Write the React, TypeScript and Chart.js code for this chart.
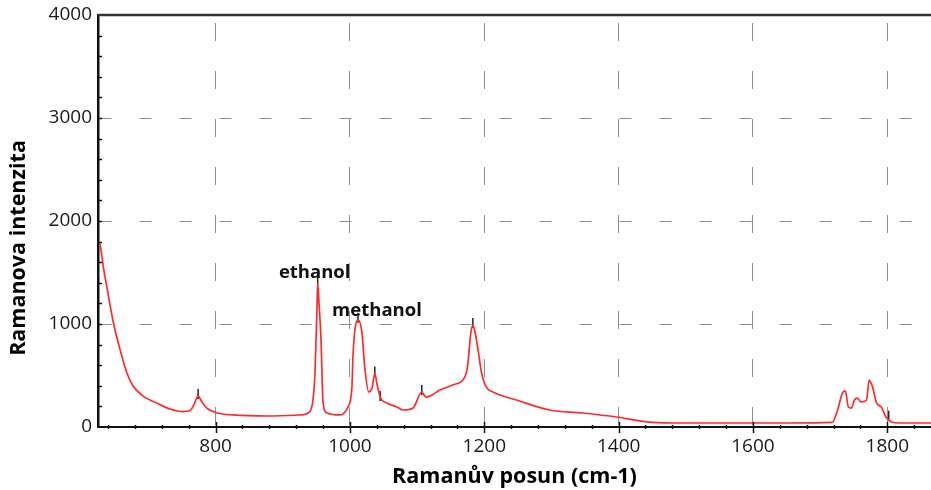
import { useEffect, useRef } from 'react';
import { Chart, registerables } from 'chart.js';

Chart.register(...registerables);

// Raman shift (cm-1) and intensity
const ramanShift = [
  627, 629.5, 633, 639, 648, 658, 668, 677, 692, 713, 732, 752, 762, 768, 774, 780, 787, 803, 826, 877,
  926, 940, 945, 948, 951, 952, 954, 957, 960, 966, 985, 997, 1003, 1004.5, 1007.4, 1012, 1018, 1022,
  1028, 1033, 1037, 1040, 1045, 1055, 1070, 1079, 1094, 1107, 1113, 1119, 1134, 1153, 1171, 1175, 1180,
  1183, 1186, 1190, 1196, 1203, 1213, 1248, 1297, 1346, 1397, 1442, 1480, 1550, 1650, 1718, 1726, 1733,
  1737.5, 1742, 1746.5, 1751, 1755, 1761, 1769, 1773, 1778, 1784, 1791, 1798, 1806, 1818, 1865,
];
const ramanIntensity = [
  1800, 1718, 1553, 1330, 1010, 748, 524, 400, 300, 230, 175, 150, 160, 220, 300, 240, 184, 136, 117, 107,
  117, 146, 262, 524, 1165, 1400, 1200, 845, 233, 136, 117, 194, 388, 680, 942, 1040, 913, 583,
  340, 380, 524, 427, 291, 233, 194, 165, 184, 340, 291, 300, 359, 408, 485, 583, 913,
  990, 930, 780, 524, 388, 340, 262, 165, 136, 97, 49, 39, 39, 39, 45, 165, 330,
  350, 194, 184, 262, 281, 243, 262, 456, 388, 233, 194, 97, 49, 39, 39,
];

// detected peak markers
const peakShift = [774, 952, 1012, 1037, 1045, 1107, 1183, 1802];
const peakIntensity = [320, 1430, 1060, 540, 300, 360, 1010, 110];

// labelled peaks
const annotationLabels = ['ethanol', 'methanol'];
const annotationShift = [952, 1012];
const annotationIntensity = [1400, 1040];

const xTickLabels = [800, 1000, 1200, 1400, 1600, 1800];
const yTickLabels = [0, 1000, 2000, 3000, 4000];
const xRange = [625, 1865];
const yRange = [0, 4000];

const xTitle = 'Ramanův posun (cm-1)';
const yTitle = 'Ramanova intenzita';

const FONT = "'Open Sans', 'DejaVu Sans', sans-serif";

const decorPlugin = {
  id: 'decor',
  afterDraw(chart: any) {
    const { ctx, chartArea, scales } = chart;
    const x = scales.x;
    const y = scales.y;
    ctx.save();
    // top frame line
    ctx.strokeStyle = '#333';
    ctx.lineWidth = 2.5;
    ctx.beginPath();
    ctx.moveTo(chartArea.left, chartArea.top);
    ctx.lineTo(chart.width, chartArea.top);
    ctx.stroke();

    // minor ticks on bottom axis
    ctx.strokeStyle = '#111';
    ctx.lineWidth = 1.5;
    for (let v = 640; v <= 1860; v += 40) {
      const px = Math.round(x.getPixelForValue(v)) + 0.5;
      const major = v % 200 === 0;
      ctx.beginPath();
      ctx.moveTo(px, chartArea.bottom - (major ? 5 : 2));
      ctx.lineTo(px, chartArea.bottom + (major ? 6 : 2));
      ctx.stroke();
    }
    // minor ticks on left axis
    for (let v = 200; v < 4000; v += 200) {
      const py = Math.round(y.getPixelForValue(v)) + 0.5;
      ctx.beginPath();
      ctx.moveTo(chartArea.left, py);
      ctx.lineTo(chartArea.left + 4, py);
      ctx.stroke();
    }

    // peak annotations
    ctx.fillStyle = '#111';
    ctx.font = `bold 18.5px ${FONT}`;
    ctx.textAlign = 'center';
    ctx.textBaseline = 'middle';
    const offsets = [[-3, -10], [19, -9]];
    annotationLabels.forEach((label, i) => {
      const px = x.getPixelForValue(annotationShift[i]);
      const py = y.getPixelForValue(annotationIntensity[i]);
      ctx.fillText(label, px + offsets[i][0], py + offsets[i][1]);
    });

    // y axis title
    ctx.font = `bold 21.5px ${FONT}`;
    ctx.fillStyle = '#000';
    ctx.translate(19, 248);
    ctx.rotate(-Math.PI / 2);
    ctx.fillText(yTitle, 0, 0);
    ctx.restore();
  },
};

export default function App() {
  const canvasRef = useRef<HTMLCanvasElement | null>(null);

  useEffect(() => {
    if (!canvasRef.current) return;
    const spectrum = ramanShift.map((v, i) => ({ x: v, y: ramanIntensity[i] }));
    const peaks = peakShift.map((v, i) => ({ x: v, y: peakIntensity[i] }));
    const chart = new Chart(canvasRef.current, {
      type: 'line',
      data: {
        datasets: [
          {
            label: 'spectrum',
            data: spectrum,
            borderColor: '#ff2b2b',
            borderWidth: 1.7,
            pointRadius: 0,
            cubicInterpolationMode: 'monotone',
            fill: false,
          },
          {
            label: 'peaks',
            type: 'scatter',
            data: peaks,
            pointStyle: 'line',
            rotation: 90,
            radius: 5,
            borderColor: '#222',
            borderWidth: 1.5,
          } as any,
        ],
      },
      options: {
        animation: false,
        responsive: true,
        maintainAspectRatio: false,
        devicePixelRatio: 1,
        layout: { autoPadding: false, padding: { top: 15, left: 0, right: 0, bottom: 0 } },
        plugins: { legend: { display: false }, tooltip: { enabled: false } },
        scales: {
          x: {
            type: 'linear',
            min: xRange[0],
            max: xRange[1],
            afterBuildTicks: (scale: any) => {
              scale.ticks = xTickLabels.map((v) => ({ value: v }));
            },
            afterFit: (scale: any) => {
              scale.height = 63;
              scale.paddingLeft = 0;
              scale.paddingRight = 0;
            },
            ticks: {
              color: '#1a1a1a',
              font: { family: FONT, size: 19 },
              padding: 8,
              maxRotation: 0,
              autoSkip: false,
              callback: (v: any) => String(v),
            },
            grid: { color: '#8f8f8f', lineWidth: 1, drawTicks: false },
            border: { display: true, color: '#111', width: 2, dash: [18, 30], dashOffset: -8 },
            title: {
              display: true,
              text: xTitle,
              color: '#000',
              font: { family: FONT, size: 21.5, weight: 'bold' },
              padding: { top: 0, bottom: 0 },
            },
          },
          y: {
            type: 'linear',
            min: yRange[0],
            max: yRange[1],
            afterBuildTicks: (scale: any) => {
              scale.ticks = yTickLabels.map((v) => ({ value: v }));
            },
            afterFit: (scale: any) => {
              scale.width = 98;
              scale.paddingTop = 0;
              scale.paddingBottom = 0;
            },
            ticks: {
              color: '#1a1a1a',
              font: { family: FONT, size: 19 },
              padding: 6,
              callback: (v: any) => String(v),
            },
            grid: {
              color: (c: any) =>
                c.tick && (c.tick.value === yRange[0] || c.tick.value === yRange[1]) ? 'rgba(0,0,0,0)' : '#8f8f8f',
              lineWidth: 1,
              drawTicks: false,
            },
            border: { display: true, color: '#111', width: 2.5, dash: [12, 28], dashOffset: 0 },
          },
        },
      },
      plugins: [decorPlugin],
    } as any);
    return () => chart.destroy();
  }, []);

  return (
    <div style={{ position: 'absolute', left: 0, top: 0, width: 931, height: 490, background: '#fff' }}>
      <canvas ref={canvasRef} />
    </div>
  );
}
